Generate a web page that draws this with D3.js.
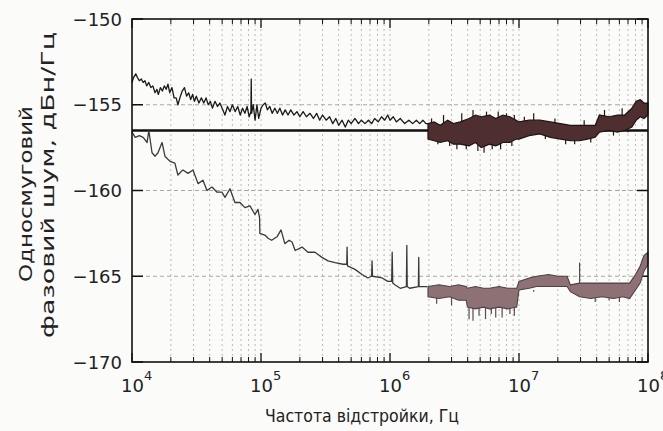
<!DOCTYPE html>
<html><head><meta charset="utf-8">
<script src="https://cdn.jsdelivr.net/npm/d3@7"></script>
<style>html,body{margin:0;padding:0;background:#fbfbfa;}svg{display:block;}</style>
</head><body>
<svg id="c" width="663" height="431"></svg>
<script>
// ---- data (frequency Hz, dBc/Hz) ----
const yTicks = [-150, -155, -160, -165, -170];
const xTickExps = [4, 5, 6, 7, 8];
const refLevel = -156.5;

const upperTrace = [[1.00e4,-153.7],[1.03e4,-153.4],[1.07e4,-153.2],[1.10e4,-153.4],[1.14e4,-153.6],[1.18e4,-153.5],[1.22e4,-153.7],[1.26e4,-153.6],[1.30e4,-153.9],[1.35e4,-153.7],[1.40e4,-154.0],[1.45e4,-153.9],[1.51e4,-154.3],[1.56e4,-154.1],[1.60e4,-154.4],[1.66e4,-154.0],[1.72e4,-154.2],[1.78e4,-153.9],[1.84e4,-154.1],[1.90e4,-153.8],[1.96e4,-154.3],[2.04e4,-154.0],[2.12e4,-154.6],[2.20e4,-154.6],[2.27e4,-155.0],[2.35e4,-154.6],[2.45e4,-154.2],[2.55e4,-154.0],[2.65e4,-154.5],[2.75e4,-154.3],[2.85e4,-154.7],[2.95e4,-154.4],[3.05e4,-154.8],[3.15e4,-154.5],[3.3e4,-154.9],[3.45e4,-154.6],[3.6e4,-154.9],[3.75e4,-154.6],[3.9e4,-155.0],[4.05e4,-154.8],[4.2e4,-155.2],[4.4e4,-154.8],[4.6e4,-155.1],[4.8e4,-154.9],[5.0e4,-155.2],[5.25e4,-155.6],[5.5e4,-155.1],[5.75e4,-155.4],[6.0e4,-155.0],[6.3e4,-155.4],[6.6e4,-155.1],[6.9e4,-155.6],[7.2e4,-155.2],[7.5e4,-155.5],[7.8e4,-155.1],[8.1e4,-155.7],[8.35e4,-155.4],[8.4e4,-153.5],[8.45e4,-155.5],[8.7e4,-155.0],[9.0e4,-155.9],[9.3e4,-155.0],[9.6e4,-155.8],[1.0e5,-155.2],[1.04e5,-155.0],[1.08e5,-154.9],[1.12e5,-155.3],[1.17e5,-155.1],[1.22e5,-155.5],[1.28e5,-155.2],[1.34e5,-155.5],[1.4e5,-155.2],[1.47e5,-155.6],[1.54e5,-155.3],[1.62e5,-155.6],[1.7e5,-155.3],[1.8e5,-155.6],[1.9e5,-155.4],[2.0e5,-155.7],[2.12e5,-155.4],[2.25e5,-155.7],[2.4e5,-155.5],[2.55e5,-155.8],[2.7e5,-155.5],[2.85e5,-155.9],[3.0e5,-155.6],[3.2e5,-155.9],[3.4e5,-155.7],[3.6e5,-156.1],[3.8e5,-155.8],[4.0e5,-156.2],[4.25e5,-155.9],[4.5e5,-156.3],[4.75e5,-155.9],[5.0e5,-156.1],[5.35e5,-155.8],[5.7e5,-156.1],[6.0e5,-155.9],[6.4e5,-156.1],[6.8e5,-155.9],[7.2e5,-156.1],[7.6e5,-155.8],[8.1e5,-156.0],[8.6e5,-155.7],[9.1e5,-155.9],[9.6e5,-155.6],[1.0e6,-155.9],[1.06e6,-155.7],[1.12e6,-156.0],[1.2e6,-155.8],[1.3e6,-156.1],[1.4e6,-155.9],[1.5e6,-156.1],[1.6e6,-155.9],[1.7e6,-156.1],[1.8e6,-155.9],[1.9e6,-156.1],[1.97e6,-156.1]];

// dense noisy region: [freq, low, high]
const upperBand = [[1.97e6,-157.0,-156.1],[2.2e6,-157.1,-156.0],[2.45e6,-157.2,-156.2],[2.8e6,-157.1,-155.9],[3.1e6,-157.3,-156.1],[3.5e6,-157.3,-156.0],[4.1e6,-157.4,-155.8],[4.6e6,-157.2,-155.6],[5.1e6,-157.5,-155.7],[5.9e6,-157.3,-155.6],[6.6e6,-157.4,-155.8],[7.5e6,-157.2,-155.6],[8.5e6,-157.2,-155.7],[9.5e6,-157.0,-155.9],[1.0e7,-157.0,-156.0],[1.2e7,-156.8,-155.9],[1.45e7,-156.7,-155.9],[1.75e7,-156.9,-156.0],[2.1e7,-157.0,-156.1],[2.5e7,-157.1,-156.2],[2.95e7,-157.1,-156.2],[3.4e7,-157.0,-156.2],[3.9e7,-156.9,-156.2],[4.2e7,-156.6,-155.6],[5.0e7,-156.5,-155.7],[5.8e7,-156.6,-155.6],[6.6e7,-156.5,-155.6],[7.5e7,-156.3,-155.2],[8.1e7,-155.9,-154.8],[8.7e7,-155.7,-154.7],[9.3e7,-155.8,-154.9],[1.0e8,-155.6,-154.9]];
const upperSpikes = [[2.1e6,-155.8],[2.35e6,-157.3],[2.6e6,-155.6],[2.9e6,-157.4],[3.3e6,-157.6],[3.6e6,-155.5],[3.9e6,-157.6],[4.4e6,-155.3],[4.8e6,-157.7],[5.36e6,-157.8],[5.6e6,-155.4],[6.2e6,-157.6],[6.9e6,-155.4],[7.2e6,-157.6],[8.0e6,-155.5],[8.8e6,-157.4],[9.2e6,-155.6],[1.1e7,-155.7],[1.3e7,-155.5],[1.6e7,-157.0],[1.9e7,-155.8],[2.3e7,-157.3],[2.7e7,-157.3],[3.2e7,-155.9],[3.6e7,-157.2],[4.6e7,-155.3],[5.4e7,-156.8],[6.3e7,-155.2],[7.0e7,-156.6]];

const lowerTrace = [[1.00e4,-156.6],[1.06e4,-156.9],[1.14e4,-156.8],[1.22e4,-156.9],[1.31e4,-157.2],[1.35e4,-156.5],[1.43e4,-157.8],[1.51e4,-158.0],[1.59e4,-157.8],[1.71e4,-157.2],[1.80e4,-158.0],[1.97e4,-158.3],[2.15e4,-158.4],[2.27e4,-159.1],[2.48e4,-158.8],[2.72e4,-159.0],[2.97e4,-158.8],[3.25e4,-159.6],[3.55e4,-159.4],[3.81e4,-160.0],[4.17e4,-159.8],[4.56e4,-160.1],[4.99e4,-160.1],[5.26e4,-160.4],[5.75e4,-159.9],[6.28e4,-160.7],[6.87e4,-160.7],[7.51e4,-161.0],[8.21e4,-160.9],[8.98e4,-161.4],[9.47e4,-161.1],[9.75e4,-161.6],[9.8e4,-162.5],[1.07e5,-162.6],[1.14e5,-162.8],[1.21e5,-162.9],[1.33e5,-162.7],[1.43e5,-162.3],[1.53e5,-163.1],[1.65e5,-162.9],[1.74e5,-163.0],[1.84e5,-163.5],[2.08e5,-163.3],[2.31e5,-163.6],[2.62e5,-163.6],[2.97e5,-163.9],[3.31e5,-164.1],[3.75e5,-164.2],[4.33e5,-164.3],[4.62e5,-164.3],[4.65e5,-163.3],[4.68e5,-164.4],[5.36e5,-164.6],[6.07e5,-164.9],[6.75e5,-165.1],[7.20e5,-165.0],[7.26e5,-164.1],[7.32e5,-165.0],[8.69e5,-165.1],[9.62e5,-165.3],[1.03e6,-165.3],[1.04e6,-163.6],[1.05e6,-165.4],[1.09e6,-165.5],[1.20e6,-165.7],[1.34e6,-165.6],[1.35e6,-163.2],[1.36e6,-165.6],[1.42e6,-165.7],[1.66e6,-165.6],[1.67e6,-163.9],[1.68e6,-165.6],[1.77e6,-165.6],[1.94e6,-165.6]];

const lowerBand = [[1.97e6,-166.2,-165.6],[2.4e6,-166.3,-165.5],[2.9e6,-166.2,-165.6],[3.4e6,-166.4,-165.5],[3.9e6,-166.4,-165.6],[3.98e6,-166.8,-165.7],[4.6e6,-166.9,-165.6],[5.3e6,-166.8,-165.7],[5.9e6,-166.9,-165.7],[7.0e6,-166.8,-165.6],[8.2e6,-166.9,-165.7],[9.6e6,-166.8,-165.7],[1.0e7,-165.8,-165.3],[1.2e7,-165.7,-165.1],[1.37e7,-165.6,-165.0],[1.7e7,-165.6,-164.9],[2.0e7,-165.6,-165.0],[2.36e7,-165.6,-165.0],[2.5e7,-165.9,-165.5],[2.95e7,-166.2,-165.4],[3.6e7,-166.3,-165.4],[4.4e7,-166.2,-165.4],[5.4e7,-166.3,-165.4],[6.4e7,-166.2,-165.4],[7.2e7,-166.3,-165.4],[8.0e7,-165.8,-164.9],[8.7e7,-165.4,-164.4],[9.3e7,-164.7,-163.8],[1.0e8,-164.3,-163.6]];
const lowerSpikes = [[2.95e7,-164.2],[4.1e6,-167.5],[4.4e6,-167.6],[4.9e6,-167.3],[5.5e6,-167.5],[6.1e6,-167.2],[6.6e6,-167.4],[7.4e6,-167.4],[8.5e6,-167.2],[9.2e6,-167.3],[2.3e6,-166.6],[3.0e6,-166.7],[1.3e7,-165.9],[3.9e7,-166.5],[5.0e7,-166.4],[6.0e7,-166.5]];

// ---- drawing ----
const svg = d3.select("#c");
const L = 132, R = 648, T = 19, B = 362;
const x = d3.scaleLog().domain([1e4, 1e8]).range([L, R]);
const y = d3.scaleLinear().domain([-170, -150]).range([B, T]);
const font = "'DejaVu Sans', 'Liberation Sans', Arial, sans-serif";

// grid
const minor = [];
for (let e = 4; e < 8; e++) for (let k = 2; k <= 9; k++) minor.push(k * Math.pow(10, e));
const majors = xTickExps.map(e => Math.pow(10, e));
const g = svg.append("g");
g.selectAll(".vg").data(minor.concat(majors.slice(1, -1))).enter().append("line")
  .attr("x1", d => x(d)).attr("x2", d => x(d)).attr("y1", T).attr("y2", B)
  .attr("stroke", "#bcbcbc").attr("stroke-width", 1).attr("stroke-dasharray", "2,3");
g.selectAll(".hg").data(yTicks.slice(1, -1)).enter().append("line")
  .attr("x1", L).attr("x2", R).attr("y1", d => y(d)).attr("y2", d => y(d))
  .attr("stroke", "#a8a8a8").attr("stroke-width", 1).attr("stroke-dasharray", "4,3");

// ticks
const tk = svg.append("g").attr("stroke", "#111");
minor.forEach(d => {
  tk.append("line").attr("x1", x(d)).attr("x2", x(d)).attr("y1", B).attr("y2", B - 5);
  tk.append("line").attr("x1", x(d)).attr("x2", x(d)).attr("y1", T).attr("y2", T + 5);
});
majors.forEach(d => {
  tk.append("line").attr("x1", x(d)).attr("x2", x(d)).attr("y1", B).attr("y2", B - 9).attr("stroke-width", 1.3);
  tk.append("line").attr("x1", x(d)).attr("x2", x(d)).attr("y1", T).attr("y2", T + 9).attr("stroke-width", 1.3);
});
yTicks.forEach(d => {
  tk.append("line").attr("x1", L).attr("x2", L + 11).attr("y1", y(d)).attr("y2", y(d)).attr("stroke-width", 1.5);
  tk.append("line").attr("x1", R).attr("x2", R - 11).attr("y1", y(d)).attr("y2", y(d)).attr("stroke-width", 1.5);
});

// reference level line
svg.append("line").attr("x1", x(1e4)).attr("x2", x(1e8)).attr("y1", y(refLevel)).attr("y2", y(refLevel))
  .attr("stroke", "#111").attr("stroke-width", 2.6);

const line = d3.line().x(d => x(d[0])).y(d => y(d[1]));
const area = d3.area().x(d => x(d[0])).y0(d => y(d[1])).y1(d => y(d[2]));

// lower trace
svg.selectAll(".ls").data(lowerSpikes).enter().append("line")
  .attr("x1", d => x(d[0])).attr("x2", d => x(d[0])).attr("y1", d => y(d[1]))
  .attr("y2", d => y(-165.8)).attr("stroke", "#5a4a4c").attr("stroke-width", 1.2);
svg.append("path").datum(lowerBand).attr("d", area).attr("fill", "#8d7175").attr("stroke", "#4e4244").attr("stroke-width", 1.1);
svg.append("path").datum(lowerTrace).attr("d", line).attr("fill", "none")
  .attr("stroke", "#3a3a3a").attr("stroke-width", 1.3).attr("stroke-linejoin", "round");

// upper trace
svg.selectAll(".us").data(upperSpikes).enter().append("line")
  .attr("x1", d => x(d[0])).attr("x2", d => x(d[0])).attr("y1", d => y(d[1]))
  .attr("y2", d => y(-156.5)).attr("stroke", "#1e1414").attr("stroke-width", 1.2);
svg.append("path").datum(upperBand).attr("d", area).attr("fill", "#4e2e2e").attr("stroke", "#1e1414").attr("stroke-width", 1.2);
svg.append("path").datum(upperTrace).attr("d", line).attr("fill", "none")
  .attr("stroke", "#1a1a1a").attr("stroke-width", 1.3).attr("stroke-linejoin", "round");

// frame
svg.append("rect").attr("x", L).attr("y", T).attr("width", R - L).attr("height", B - T)
  .attr("fill", "none").attr("stroke", "#111").attr("stroke-width", 1.6);

// y labels
svg.selectAll(".yl").data(yTicks).enter().append("text")
  .attr("x", 122).attr("y", d => y(d) + 6.5).attr("text-anchor", "end")
  .attr("font-family", font).attr("font-size", 18).attr("fill", "#222")
  .text(d => "\u2212" + Math.abs(d));

// x labels
xTickExps.forEach(e => {
  const t = svg.append("text").attr("x", x(Math.pow(10, e)) - 11).attr("y", 392)
    .attr("font-family", font).attr("font-size", 18).attr("fill", "#222");
  t.append("tspan").text("10");
  t.append("tspan").attr("dy", -12).attr("font-size", 13).text(e);
});

// axis titles
svg.append("text").attr("x", 362).attr("y", 422).attr("text-anchor", "middle")
  .attr("font-family", font).attr("font-size", 17).attr("fill", "#222")
  .attr("textLength", 194).attr("lengthAdjust", "spacingAndGlyphs").text("Частота відстройки, Гц");
svg.append("text").attr("transform", "translate(32,194) rotate(-90)").attr("text-anchor", "middle")
  .attr("font-family", font).attr("font-size", 17.5).attr("fill", "#222")
  .attr("textLength", 176).attr("lengthAdjust", "spacingAndGlyphs").text("Односмуговий");
svg.append("text").attr("transform", "translate(54,185) rotate(-90)").attr("text-anchor", "middle")
  .attr("font-family", font).attr("font-size", 17.5).attr("fill", "#222")
  .attr("textLength", 306).attr("lengthAdjust", "spacingAndGlyphs").text("фазовий шум, дБн/Гц");
</script>
</body></html>
